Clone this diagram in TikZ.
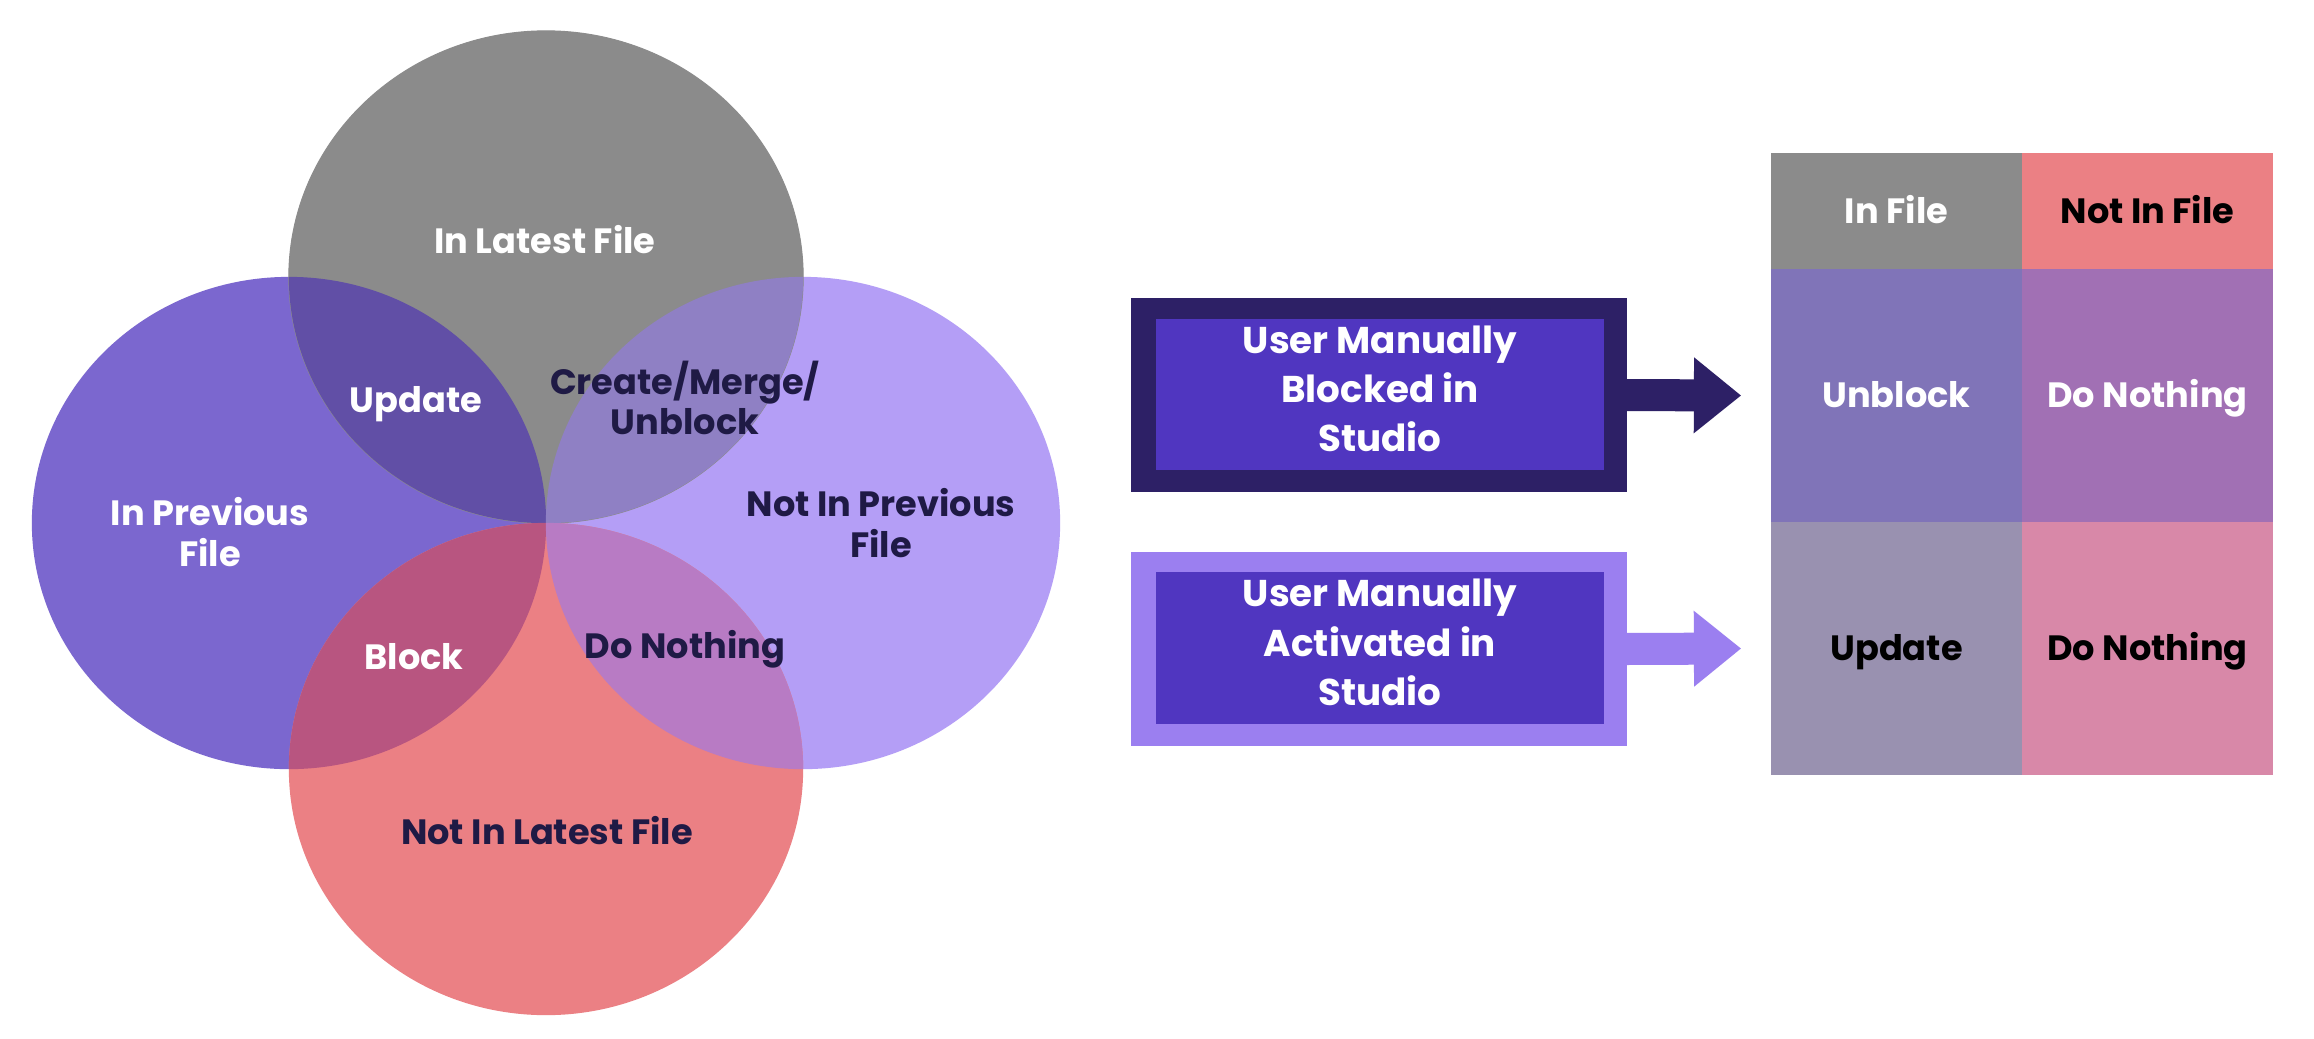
\documentclass[tikz,border=0pt]{standalone}
\usepackage{fontspec}
\setmainfont{Poppins}
\usetikzlibrary{arrows.meta}

\definecolor{filegray}{HTML}{8B8B8B}
\definecolor{prevpurple}{HTML}{7B67CF}
\definecolor{lavender}{HTML}{B49EF6}
\definecolor{salmon}{HTML}{EB8084}
\definecolor{updreg}{HTML}{614FA6}
\definecolor{cmureg}{HTML}{8F80C4}
\definecolor{blockreg}{HTML}{B85580}
\definecolor{nothreg}{HTML}{B87BC4}
\definecolor{navytext}{HTML}{1F1A45}
\definecolor{darkbox}{HTML}{2D2066}
\definecolor{boxpurple}{HTML}{5036C0}
\definecolor{lightbox}{HTML}{9B7FF0}
\definecolor{unblockcol}{HTML}{8074B8}
\definecolor{nothingA}{HTML}{A170B4}
\definecolor{updatecol}{HTML}{9991B0}
\definecolor{nothingB}{HTML}{D888A8}

\begin{document}
\begin{tikzpicture}[x=0.01cm,y=-0.01cm,font=\bfseries\fontsize{10}{11.4}\selectfont,
  lighttxt/.style={align=center,inner sep=0pt,text=white},
  darktxt/.style={align=center,inner sep=0pt,text=navytext},
  oneline/.style={text height=.7em,text depth=0pt},
  outerbox/.style={minimum width=4.96cm,minimum height=1.94cm,inner sep=0pt,outer sep=0pt},
  innerbox/.style={fill=boxpurple,inner sep=0pt,minimum width=4.48cm,minimum height=1.51cm},
  boxlabel/.style={align=center,text=white,font=\bfseries\fontsize{10.6}{14}\selectfont},
  boxarrow/.style={draw=#1,line width=3.2mm,
    -{Triangle[length=4.7mm,width=7.6mm,line width=0pt]}},
  cell/.style={minimum width=2.51cm,inner sep=0pt,outer sep=0pt,text height=.7em,text depth=0pt}]
\useasboundingbox (0,0) rectangle (2314,1038);
\fill[white] (0,0) rectangle (2314,1038);

\def\topcircle{(546,277) ellipse [x radius=2.57cm,y radius=2.46cm]}
\def\leftcircle{(289,523) ellipse [x radius=2.57cm,y radius=2.46cm]}
\def\rightcircle{(803,523) ellipse [x radius=2.57cm,y radius=2.46cm]}
\def\bottomcircle{(546,769) ellipse [x radius=2.57cm,y radius=2.46cm]}

% venn
\fill[prevpurple]\leftcircle;
\fill[lavender]\rightcircle;
\fill[salmon]\bottomcircle;
\fill[filegray,draw=black!45,line width=.3pt]\topcircle;
\begin{scope}
\clip\topcircle;
\fill[updreg]\leftcircle;
\fill[cmureg]\rightcircle;
\end{scope}
\begin{scope}
\clip\bottomcircle;
\fill[blockreg]\leftcircle;
\fill[nothreg]\rightcircle;
\end{scope}

\node[lighttxt,oneline] (latest) at (545,241) {In Latest File};
\node[lighttxt,oneline] (upd) at (416,400) {Update};
\node[darktxt] (cmu) at (685,398) {Create/Merge/\\Unblock};
\node[lighttxt] (prev) at (210,532) {In Previous\\File};
\node[darktxt] (notprev) at (881,523) {Not In Previous\\File};
\node[lighttxt,oneline] (blk) at (414,657) {Block};
\node[darktxt,oneline] (nothing) at (685,646) {Do Nothing};
\node[darktxt,oneline] (notlatest) at (547,832) {Not In Latest File};

% table
\node[cell,fill=filegray,text=white,minimum height=1.16cm] (infile) at (1896.5,211) {In File};
\node[cell,fill=salmon,minimum height=1.16cm] (notinfile) at (2147.5,211) {Not In File};
\node[cell,fill=unblockcol,text=white,minimum height=2.53cm] (unblock) at (1896.5,395.5) {Unblock};
\node[cell,fill=nothingA,text=white,minimum height=2.53cm] (nothA) at (2147.5,395.5) {Do Nothing};
\node[cell,fill=updatecol,minimum height=2.53cm] (update) at (1896.5,648.5) {Update};
\node[cell,fill=nothingB,minimum height=2.53cm] (nothB) at (2147.5,648.5) {Do Nothing};

% manual boxes
\node[outerbox,fill=darkbox] (blocked) at (1379,395) {};
\node[innerbox] (blockedin) at (1380,394.5) {};
\node[boxlabel] (blockedlbl) at (1380,389) {User Manually\\Blocked in\\Studio};
\node[outerbox,fill=lightbox] (activated) at (1379,649) {};
\node[innerbox] (activatedin) at (1380,648) {};
\node[boxlabel] (activatedlbl) at (1380,642.5) {User Manually\\Activated in\\Studio};

\draw[boxarrow=darkbox] ([xshift=-.5mm]blocked.east) -- ([xshift=-3mm]unblock.west);
\draw[boxarrow=lightbox] ([xshift=-.5mm]activated.east) -- ([xshift=-3mm]update.west);
\end{tikzpicture}
\end{document}
